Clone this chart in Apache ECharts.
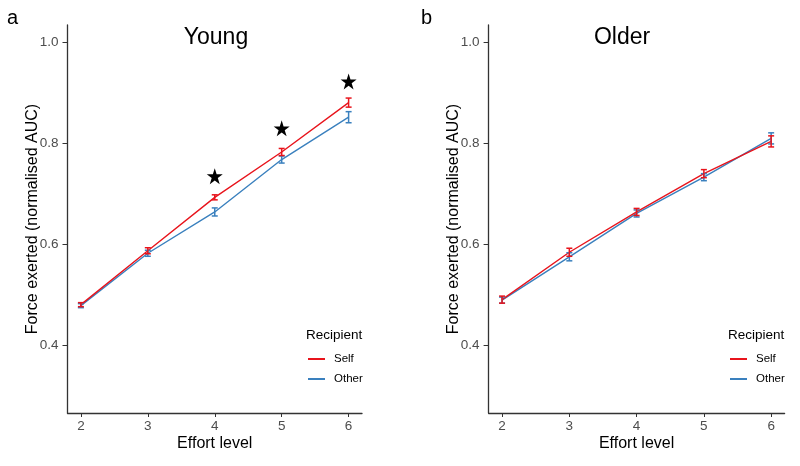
<!DOCTYPE html>
<html>
<head>
<meta charset="utf-8">
<script src="https://cdn.jsdelivr.net/npm/echarts@6/dist/echarts.min.js"></script>
<style>
html,body{margin:0;padding:0;background:#fff;}
#chart{width:800px;height:466px;}
</style>
</head>
<body>
<div id="chart"></div>
<script>
const efforts = [2, 3, 4, 5, 6];
const xTicks = [2, 3, 4, 5, 6];
const yTicks = [0.4, 0.6, 0.8, 1.0];
const youngSelf = [0.480, 0.587, 0.693, 0.783, 0.881];
const youngSelfSE = [0.004, 0.006, 0.005, 0.007, 0.009];
const youngOther = [0.478, 0.582, 0.664, 0.768, 0.852];
const youngOtherSE = [0.004, 0.006, 0.008, 0.007, 0.011];
const olderSelf = [0.490, 0.584, 0.664, 0.740, 0.804];
const olderSelfSE = [0.007, 0.008, 0.007, 0.008, 0.011];
const olderOther = [0.489, 0.575, 0.661, 0.733, 0.810];
const olderOtherSE = [0.006, 0.008, 0.007, 0.007, 0.011];
const starEfforts = [4, 5, 6];
const starValues = [0.735, 0.830, 0.923];

const RED = '#E8141C';
const BLUE = '#3A80BE';
const FONT = '"Liberation Sans", Arial, sans-serif';
const STAR = 'path://M50,0 L61.2,34.5 L97.6,34.5 L68.2,55.9 L79.4,90.5 L50,69.1 L20.6,90.5 L31.8,55.9 L2.4,34.5 L38.8,34.5 Z';

function pts(vals) { return efforts.map((e, i) => [e, vals[i]]); }
function errs(vals, se) { return efforts.map((e, i) => [e, vals[i] - se[i], vals[i] + se[i]]); }

function errSeries(name, vals, se, color, idx) {
  return {
    type: 'custom', name: name, xAxisIndex: idx, yAxisIndex: idx,
    data: errs(vals, se), encode: { x: 0, y: [1, 2] }, silent: true, z: 3,
    renderItem: function (params, api) {
      const x = api.value(0);
      const lo = api.coord([x, api.value(1)]);
      const hi = api.coord([x, api.value(2)]);
      const w = 3;
      const st = { stroke: color, lineWidth: 1.5 };
      return { type: 'group', children: [
        { type: 'line', shape: { x1: lo[0], y1: lo[1], x2: hi[0], y2: hi[1] }, style: st },
        { type: 'line', shape: { x1: lo[0] - w, y1: lo[1], x2: lo[0] + w, y2: lo[1] }, style: st },
        { type: 'line', shape: { x1: hi[0] - w, y1: hi[1], x2: hi[0] + w, y2: hi[1] }, style: st }
      ]};
    }
  };
}
function lineSeries(name, vals, color, idx) {
  return {
    type: 'line', name: name, xAxisIndex: idx, yAxisIndex: idx, data: pts(vals),
    showSymbol: false, symbol: 'none', lineStyle: { color: color, width: 1.4 }, itemStyle: { color: color },
    z: 2, animation: false
  };
}
function xAxis(idx) {
  return {
    type: 'value', gridIndex: idx, min: 1.8, max: 6.2,
    name: 'Effort level', nameLocation: 'middle', nameGap: 23, nameMoveOverlap: false,
    nameTextStyle: { fontSize: 16, color: '#000', fontFamily: FONT },
    axisLine: { lineStyle: { color: '#333', width: 1.3 } },
    axisTick: { show: true, customValues: xTicks, length: 4, lineStyle: { color: '#333' } },
    axisLabel: { customValues: xTicks, fontSize: 13.5, color: '#4d4d4d', fontFamily: FONT, margin: 6 },
    splitLine: { show: false }
  };
}
function yAxis(idx) {
  return {
    type: 'value', gridIndex: idx, min: 0.265, max: 1.035,
    name: 'Force exerted (normalised AUC)', nameLocation: 'middle', nameGap: 27, nameMoveOverlap: false,
    nameTextStyle: { fontSize: 16, color: '#000', fontFamily: FONT },
    axisLine: { show: true, lineStyle: { color: '#333', width: 1.3 } },
    axisTick: { show: true, customValues: yTicks, length: 5, lineStyle: { color: '#333' } },
    axisLabel: { customValues: yTicks, fontSize: 13.5, color: '#4d4d4d', fontFamily: FONT, margin: 9,
      formatter: v => v.toFixed(1) },
    splitLine: { show: false }
  };
}
function legend(left) {
  return {
    orient: 'vertical', left: left, top: 348, data: ['Self', 'Other'],
    icon: 'rect', itemWidth: 17, itemHeight: 2, itemGap: 8,
    textStyle: { fontSize: 11.5, color: '#000', fontFamily: FONT, padding: [0, 0, 0, 4] }, selectedMode: false
  };
}

const chart = echarts.init(document.getElementById('chart'), null, { renderer: 'canvas' });
chart.setOption({
  animation: false,
  backgroundColor: '#fff',
  title: [
    { text: 'a', left: 2, top: 3, textStyle: { fontSize: 20, fontWeight: 'normal', color: '#000', fontFamily: FONT } },
    { text: 'b', left: 416, top: 3, textStyle: { fontSize: 20, fontWeight: 'normal', color: '#000', fontFamily: FONT } },
    { text: 'Young', left: 211, top: 21, textAlign: 'center', textStyle: { fontSize: 23, fontWeight: 'normal', color: '#000', fontFamily: FONT } },
    { text: 'Older', left: 617, top: 21, textAlign: 'center', textStyle: { fontSize: 23, fontWeight: 'normal', color: '#000', fontFamily: FONT } },
    { text: 'Recipient', left: 301, top: 323, textStyle: { fontSize: 13.5, fontWeight: 'normal', color: '#000', fontFamily: FONT } },
    { text: 'Recipient', left: 723, top: 323, textStyle: { fontSize: 13.5, fontWeight: 'normal', color: '#000', fontFamily: FONT } }
  ],
  legend: [legend(303), legend(725)],
  grid: [
    { left: 67.5, right: 438, top: 25, bottom: 53 },
    { left: 488.6, right: 15.4, top: 25, bottom: 53 }
  ],
  xAxis: [xAxis(0), xAxis(1)],
  yAxis: [yAxis(0), yAxis(1)],
  series: [
    lineSeries('Other', youngOther, BLUE, 0),
    errSeries('Other', youngOther, youngOtherSE, BLUE, 0),
    lineSeries('Self', youngSelf, RED, 0),
    errSeries('Self', youngSelf, youngSelfSE, RED, 0),
    lineSeries('Other', olderOther, BLUE, 1),
    errSeries('Other', olderOther, olderOtherSE, BLUE, 1),
    lineSeries('Self', olderSelf, RED, 1),
    errSeries('Self', olderSelf, olderSelfSE, RED, 1),
    {
      type: 'scatter', name: 'stars', xAxisIndex: 0, yAxisIndex: 0,
      data: starEfforts.map((e, i) => [e, starValues[i]]),
      symbol: STAR, symbolSize: 16, itemStyle: { color: '#000', opacity: 1 }, silent: true, z: 4
    }
  ]
});
</script>
</body>
</html>
